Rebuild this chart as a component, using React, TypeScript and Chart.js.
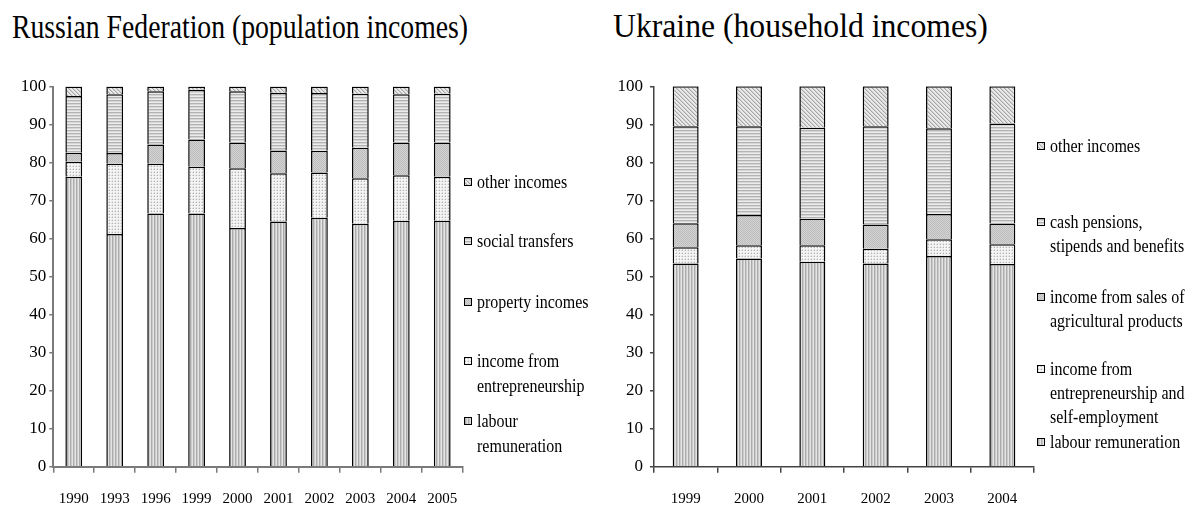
import React, { useEffect, useRef } from "react";
import { Chart, registerables } from "chart.js";

Chart.register(...registerables);

// ---------------- DATA ----------------
const ruTitle = "Russian Federation (population incomes)";
const uaTitle = "Ukraine (household incomes)";

const ruYears = ["1990", "1993", "1996", "1999", "2000", "2001", "2002", "2003", "2004", "2005"];
const ruLabour = [76.3, 61.2, 66.6, 66.6, 62.8, 64.5, 65.5, 63.9, 64.7, 64.7];
const ruEntrep = [3.9, 18.5, 13.1, 12.3, 15.7, 12.7, 11.9, 12.0, 12.0, 11.6];
const ruProperty = [2.4, 2.8, 5.1, 7.2, 6.8, 6.0, 5.7, 8.0, 8.6, 9.0];
const ruSocial = [14.9, 15.5, 14.0, 13.1, 13.5, 15.2, 15.2, 14.2, 12.7, 12.8];
const ruOther = [2.5, 2.0, 1.2, 0.8, 1.2, 1.6, 1.7, 1.9, 2.0, 1.9];

const uaYears = ["1999", "2000", "2001", "2002", "2003", "2004"];
const uaLabour = [53.4, 54.7, 53.9, 53.4, 55.4, 53.3];
const uaEntrep = [4.3, 3.5, 4.3, 3.9, 4.4, 5.2];
const uaAgri = [6.3, 8.0, 7.0, 6.4, 6.6, 5.4];
const uaPensions = [25.5, 23.3, 23.9, 25.8, 22.6, 26.3];
const uaOther = [10.5, 10.5, 10.9, 10.5, 11.0, 9.8];

const ruSeriesNames = ["labour remuneration", "income from entrepreneurship", "property incomes", "social transfers", "other incomes"];
const uaSeriesNames = [
  "labour remuneration",
  "income from entrepreneurship and self-employment",
  "income from sales of agricultural products",
  "cash pensions, stipends and benefits",
  "other incomes",
];

// legend text, top to bottom (line breaks as in the picture)
const ruLegend = [["other incomes"], ["social transfers"], ["property incomes"], ["income from", "entrepreneurship"], ["labour", "remuneration"]];
const uaLegend = [
  ["other incomes"],
  ["cash pensions,", "stipends and benefits"],
  ["income from sales of", "agricultural products"],
  ["income from", "entrepreneurship and", "self-employment"],
  ["labour remuneration"],
];

const yTicksMin = 0;
const yTicksMax = 100;
const yTicksStep = 10;

// ---------------- STYLE ----------------
const FONT = "'Liberation Serif', 'Times New Roman', serif";
type Kind = "vert" | "dots" | "grey" | "horiz" | "diag";
const seriesKinds: Kind[] = ["vert", "dots", "grey", "horiz", "diag"];
const legendKinds: Kind[] = ["diag", "horiz", "grey", "dots", "vert"];

function makeTile(kind: Kind): HTMLCanvasElement {
  const c = document.createElement("canvas");
  const ctx = c.getContext("2d")!;
  const px = (x: number, y: number, col: string) => {
    ctx.fillStyle = col;
    ctx.fillRect(x, y, 1, 1);
  };
  if (kind === "vert") {
    c.width = 3; c.height = 1;
    const cols = ["#e4e4e4", "#ababab", "#cbcbcb"];
    cols.forEach((col, i) => px(i, 0, col));
  } else if (kind === "horiz") {
    c.width = 1; c.height = 3;
    const cols = ["#ececec", "#b3b3b3", "#d6d6d6"];
    cols.forEach((col, i) => px(0, i, col));
  } else if (kind === "dots") {
    c.width = 3; c.height = 3;
    ctx.fillStyle = "#f4f4f4";
    ctx.fillRect(0, 0, 3, 3);
    px(1, 1, "#b4b4b4");
    px(0, 1, "#dcdcdc");
    px(1, 0, "#dcdcdc");
  } else if (kind === "grey") {
    c.width = 2; c.height = 2;
    px(0, 0, "#bdbdbd"); px(1, 1, "#bdbdbd");
    px(1, 0, "#d3d3d3"); px(0, 1, "#d3d3d3");
  } else {
    c.width = 4; c.height = 4;
    ctx.fillStyle = "#eaeaea";
    ctx.fillRect(0, 0, 4, 4);
    for (let i = 0; i < 4; i++) px(i, i, "#a6a6a6");
    for (let i = 0; i < 4; i++) px((i + 1) % 4, i, "#d0d0d0");
  }
  return c;
}

function makePattern(kind: Kind): CanvasPattern | string {
  const c = document.createElement("canvas");
  const ctx = c.getContext("2d")!;
  return ctx.createPattern(makeTile(kind), "repeat") || "#ccc";
}

type Area = { left: number; right: number; top: number; bottom: number };

function StackChart(props: {
  left: number; top: number; width: number; height: number;
  labels: string[]; series: number[][]; names: string[];
  area: Area; axisColor: string; axisWidth: number; yPad: number;
}) {
  const ref = useRef<HTMLCanvasElement | null>(null);
  useEffect(() => {
    const canvas = ref.current!;
    const { area, height, width } = props;
    const datasets = props.series.map((d, i) => ({
      label: props.names[i],
      data: d,
      backgroundColor: makePattern(seriesKinds[i]) as any,
      borderColor: "#000",
      borderWidth: 1.5,
      categoryPercentage: 1,
      barPercentage: 0.41,
    }));
    const chart = new Chart(canvas, {
      type: "bar",
      data: { labels: props.labels, datasets },
      options: {
        animation: false,
        responsive: false,
        events: [],
        layout: { padding: { top: area.top, right: width - area.right, left: 0, bottom: 0 } },
        plugins: { legend: { display: false }, tooltip: { enabled: false }, title: { display: false } },
        scales: {
          x: {
            stacked: true,
            grid: { drawOnChartArea: false, tickLength: 6, color: props.axisColor, lineWidth: 1.5, offset: true },
            border: { color: props.axisColor, width: props.axisWidth },
            ticks: { font: { family: FONT, size: 15 }, color: "#000", padding: 17, maxRotation: 0, autoSkip: false },
            afterFit: (s: any) => { s.height = height - area.bottom; },
          },
          y: {
            stacked: true,
            min: yTicksMin,
            max: yTicksMax,
            ticks: { stepSize: yTicksStep, font: { family: FONT, size: 17 }, color: "#000", padding: props.yPad },
            grid: { drawOnChartArea: false, tickLength: 4, color: props.axisColor, lineWidth: 1.5 },
            border: { color: props.axisColor, width: props.axisWidth },
            afterFit: (s: any) => { s.width = area.left; },
          },
        },
      },
    });
    return () => chart.destroy();
  }, []);
  return (
    <canvas
      ref={ref}
      width={props.width}
      height={props.height}
      style={{ position: "absolute", left: props.left, top: props.top, width: props.width, height: props.height }}
    />
  );
}

function Swatch({ kind, left, top }: { kind: Kind; left: number; top: number }) {
  const ref = useRef<HTMLCanvasElement | null>(null);
  useEffect(() => {
    const c = ref.current!;
    const ctx = c.getContext("2d")!;
    ctx.fillStyle = makePattern(kind) as any;
    ctx.fillRect(0, 0, 8, 8);
    ctx.strokeStyle = "#000";
    ctx.lineWidth = 1;
    ctx.strokeRect(0.5, 0.5, 7, 7);
  }, []);
  return <canvas ref={ref} width={8} height={8} style={{ position: "absolute", left, top, width: 8, height: 8 }} />;
}

function TextLine({ text, left, baseline, size, sy }: { text: string; left: number; baseline: number; size: number; sy: number }) {
  const b = 0.8375 * size;
  return (
    <div
      style={{
        position: "absolute",
        left,
        top: baseline - b,
        fontFamily: FONT,
        fontSize: size,
        lineHeight: `${size}px`,
        whiteSpace: "nowrap",
        color: "#000",
        transform: `scaleY(${sy})`,
        transformOrigin: `0 ${b}px`,
      }}
    >
      {text}
    </div>
  );
}

function Legend({ items, kinds, swX, textX, baselines, step }: { items: string[][]; kinds: Kind[]; swX: number; textX: number; baselines: number[]; step: number }) {
  return (
    <>
      {items.map((lines, i) => (
        <React.Fragment key={i}>
          <Swatch kind={kinds[i]} left={swX} top={baselines[i] - 10} />
          {lines.map((t, j) => (
            <TextLine key={j} text={t} left={textX} baseline={baselines[i] + j * step} size={16} sy={1.14} />
          ))}
        </React.Fragment>
      ))}
    </>
  );
}

export default function App() {
  return (
    <div style={{ position: "absolute", left: 0, top: 0, width: 1187, height: 506, background: "#fff", overflow: "hidden" }}>
      <TextLine text={ruTitle} left={12} baseline={38} size={27.7} sy={1.25} />
      <TextLine text={uaTitle} left={613} baseline={38} size={31.7} sy={1.07} />
      <StackChart
        left={0} top={60} width={600} height={446}
        labels={ruYears}
        series={[ruLabour, ruEntrep, ruProperty, ruSocial, ruOther]}
        names={ruSeriesNames}
        area={{ left: 53.3, right: 462.7, top: 26.6, bottom: 406.7 }}
        axisColor="#7a7a7a" axisWidth={2} yPad={3}
      />
      <StackChart
        left={600} top={60} width={587} height={446}
        labels={uaYears}
        series={[uaLabour, uaEntrep, uaAgri, uaPensions, uaOther]}
        names={uaSeriesNames}
        area={{ left: 54, right: 434, top: 26.3, bottom: 406.7 }}
        axisColor="#444" axisWidth={1.5} yPad={7}
      />
      <Legend items={ruLegend} kinds={legendKinds} swX={464} textX={477} baselines={[188, 247, 308, 367, 427]} step={25} />
      <Legend items={uaLegend} kinds={legendKinds} swX={1037} textX={1050} baselines={[152, 228, 303, 375, 448]} step={24.3} />
    </div>
  );
}
